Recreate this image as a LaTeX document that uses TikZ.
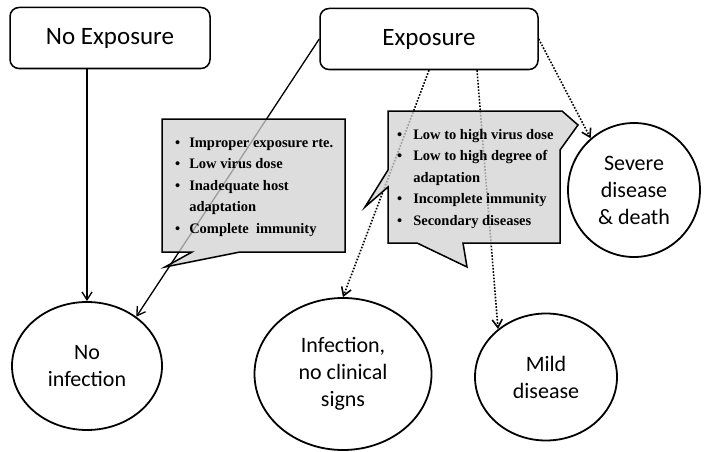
\documentclass[tikz,border=0pt]{standalone}
\usepackage{fontspec}
\setmainfont{Carlito}
\newfontfamily\notefont{Liberation Serif}
\usetikzlibrary{arrows.meta,shapes.geometric,positioning}

\begin{document}
\begin{tikzpicture}[x=1pt, y=-1pt,
  box/.style={draw, line width=1.5pt, rounded corners=9pt, minimum height=61pt, font=\fontsize{25}{29}\selectfont},
  circ/.style={draw, ellipse, line width=1.8pt, inner sep=0pt, align=center, font=\fontsize{22}{27}\selectfont},
  note/.style={draw, line width=1.5pt, fill=black!18, fill opacity=0.75},
  notetext/.style={anchor=west, inner sep=0pt, align=left, font=\notefont\bfseries\fontsize{14.5}{21.5}\selectfont},
  arr/.style={-{Straight Barb[length=8pt,width=10pt]}, line width=1.3pt},
  dotarr/.style={arr, line width=1.6pt, dash pattern=on 1.6pt off 1.6pt}
]
\useasboundingbox (0,0) rectangle (709,452);

% top boxes
\node[box, minimum width=200pt] (noexp) at (110,38) {No Exposure};
\node[box, minimum width=218pt] (expo) at (429,39) {Exposure};

% outcomes
\node[circ, minimum width=150pt, minimum height=128pt] (noinf) at (87,366) {No\\infection};
\node[circ, minimum width=177pt, minimum height=152pt] (infect) at (343,374) {Infection,\\no clinical\\signs};
\node[circ, minimum width=142pt, minimum height=127pt] (mild) at (546,377) {Mild\\disease};
\node[circ, minimum width=132pt, minimum height=134pt] (severe) at (634,190) {Severe\\disease\\\& death};

% connectors
\draw[arr] (noexp.south -| noinf.north) -- (noinf.north);
\draw[arr] (expo.west) -- (noinf.45);
\draw[dotarr] (expo.south) -- (infect.north);
\draw[dotarr] ([xshift=48pt]expo.south) -- (mild.135);
\draw[dotarr] (expo.east) -- (severe.130);

% callouts
\draw[note] (162,119) -- (345,119) -- (345,252) -- (240,252) -- (165,267) -- (192,252) -- (162,252) -- cycle;
\draw[note] (388,111) -- (562,111) -- (578,125) -- (560,150) -- (560,243) -- (463,243) -- (467,267)
  -- (417,243) -- (388,243) -- (388,187) -- (365,207) -- (388,170) -- cycle;

\node[notetext] (nolist) at (175,186) {%
  \begin{tabular}{@{}l@{\hspace{9pt}}l@{}}
  \textbullet & Improper exposure rte.\\
  \textbullet & Low virus dose\\
  \textbullet & Inadequate host\\
              & adaptation\\
  \textbullet & Complete\ \ immunity
  \end{tabular}};
\node[notetext] (yeslist) at (397,178) {%
  \begin{tabular}{@{}l@{\hspace{11pt}}l@{}}
  \textbullet & Low to high virus dose\\
  \textbullet & Low to high degree of\\
              & adaptation\\
  \textbullet & Incomplete immunity\\
  \textbullet & Secondary diseases
  \end{tabular}};
\end{tikzpicture}
\end{document}
